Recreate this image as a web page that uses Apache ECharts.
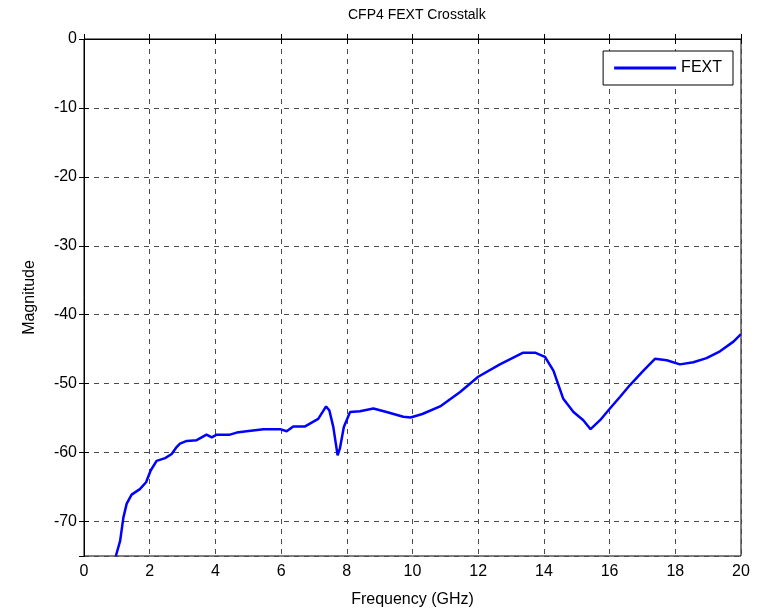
<!DOCTYPE html>
<html>
<head>
<meta charset="utf-8">
<script src="https://cdn.jsdelivr.net/npm/echarts@6/dist/echarts.min.js"></script>
<style>
html, body { margin: 0; padding: 0; background: #fff; }
#mychart { width: 762px; height: 608px; }
</style>
</head>
<body>
<div id="mychart"></div>
<script>
var domchart = document.getElementById("mychart");

// frequency (GHz) and FEXT magnitude
var freq = [0.97, 1.10, 1.20, 1.30, 1.45, 1.70, 1.89, 2.03, 2.21, 2.47, 2.67, 2.82, 2.92, 3.13, 3.43,
    3.58, 3.73, 3.89, 4.04, 4.44, 4.65, 4.95, 5.46, 5.97, 6.17, 6.37, 6.73, 7.13, 7.37, 7.47,
    7.59, 7.72, 7.79, 7.91, 8.10, 8.40, 8.81, 9.21, 9.72, 9.94, 10.30, 10.84, 11.45, 12.00, 12.66,
    13.37, 13.73, 14.03, 14.29, 14.59, 14.90, 15.20, 15.42, 15.71, 16.01, 16.32, 16.62, 17.03, 17.38, 17.74,
    18.14, 18.55, 18.95, 19.36, 19.77, 20.00];
var fext = [-75.0, -72.8, -69.4, -67.4, -66.1, -65.3, -64.3, -62.6, -61.2, -60.8, -60.2, -59.2, -58.7, -58.3, -58.2,
    -57.8, -57.4, -57.8, -57.4, -57.4, -57.1, -56.9, -56.6, -56.6, -56.9, -56.2, -56.2, -55.1, -53.3, -53.9,
    -56.3, -60.4, -59.4, -56.3, -54.1, -54.0, -53.6, -54.1, -54.8, -54.9, -54.4, -53.3, -51.2, -49.0, -47.2,
    -45.5, -45.5, -46.1, -48.1, -52.2, -54.1, -55.3, -56.6, -55.3, -53.6, -51.9, -50.2, -48.1, -46.4, -46.6,
    -47.2, -46.9, -46.3, -45.3, -43.9, -42.8];

var xMin = 0, xMax = 20, xStep = 2;
var yMin = -75, yMax = 0;

var pts = [];
for (var i = 0; i < freq.length; i++) {
    pts.push([freq[i], fext[i]]);
}

var font = 'Liberation Sans, Arial, sans-serif';
var gridLine = { show: true, lineStyle: { color: '#4a4a4a', type: [5, 5], width: 1 } };

option = {
    animation: false,
    backgroundColor: '#fff',
    title: {
        text: 'CFP4 FEXT Crosstalk',
        left: 343, top: 3,
        textStyle: { fontFamily: font, fontSize: 14, fontWeight: 'normal', color: '#000' }
    },
    legend: {
        right: 29, top: 51,
        orient: 'vertical',
        backgroundColor: '#fff',
        borderColor: '#000', borderWidth: 1, borderRadius: 0,
        padding: [8, 11, 8, 11],
        itemWidth: 62, itemHeight: 3, itemGap: 5,
        icon: 'rect',
        textStyle: { fontFamily: font, fontSize: 16, color: '#000', lineHeight: 18 },
        data: ['FEXT']
    },
    grid: {
        left: 84, right: 21, top: 39, bottom: 52,
        outerBoundsMode: 'none',
        show: true, borderColor: '#000', borderWidth: 1
    },
    xAxis: [{
        type: 'value', min: xMin, max: xMax, interval: xStep,
        name: 'Frequency (GHz)', nameLocation: 'middle', nameGap: 36,
        nameTextStyle: { fontFamily: font, fontSize: 16, color: '#000' },
        axisLine: { show: true, lineStyle: { color: '#000', width: 1 } },
        axisTick: { show: true, inside: true, length: 5, lineStyle: { color: '#000' } },
        axisLabel: { fontFamily: font, fontSize: 16, color: '#000', margin: 8 },
        splitLine: gridLine
    }, {
        type: 'value', position: 'top', min: xMin, max: xMax, interval: xStep,
        axisLine: { show: true, lineStyle: { color: '#000', width: 1 } },
        axisTick: { show: true, inside: true, length: 5, lineStyle: { color: '#000' } },
        axisLabel: { show: false },
        splitLine: { show: false }
    }],
    yAxis: [{
        type: 'value', min: yMin, max: yMax, splitNumber: 7,
        name: 'Magnitude', nameLocation: 'middle', nameGap: 46,
        nameTextStyle: { fontFamily: font, fontSize: 16, color: '#000' },
        axisLine: { show: true, lineStyle: { color: '#000', width: 1 } },
        axisTick: { show: true, inside: true, length: 5, lineStyle: { color: '#000' } },
        axisLabel: {
            fontFamily: font, fontSize: 16, color: '#000', margin: 7,
            showMinLabel: false,
            formatter: function (v) { return v % 10 === 0 ? String(v) : ''; }
        },
        splitLine: gridLine
    }, {
        type: 'value', position: 'right', min: yMin, max: yMax, splitNumber: 7,
        axisLine: { show: true, lineStyle: { color: '#000', width: 1 } },
        axisTick: { show: true, inside: true, length: 5, lineStyle: { color: '#000' } },
        axisLabel: { show: false },
        splitLine: { show: false }
    }],
    series: [{
        name: 'FEXT',
        type: 'line',
        xAxisIndex: 0, yAxisIndex: 0,
        symbol: 'none',
        smooth: false,
        clip: true,
        lineStyle: { color: '#0000ff', width: 2.5 },
        itemStyle: { color: '#0000ff' },
        data: pts
    }]
};

var chart_line = echarts.init(domchart);
chart_line.setOption(option, true);
</script>
</body>
</html>
